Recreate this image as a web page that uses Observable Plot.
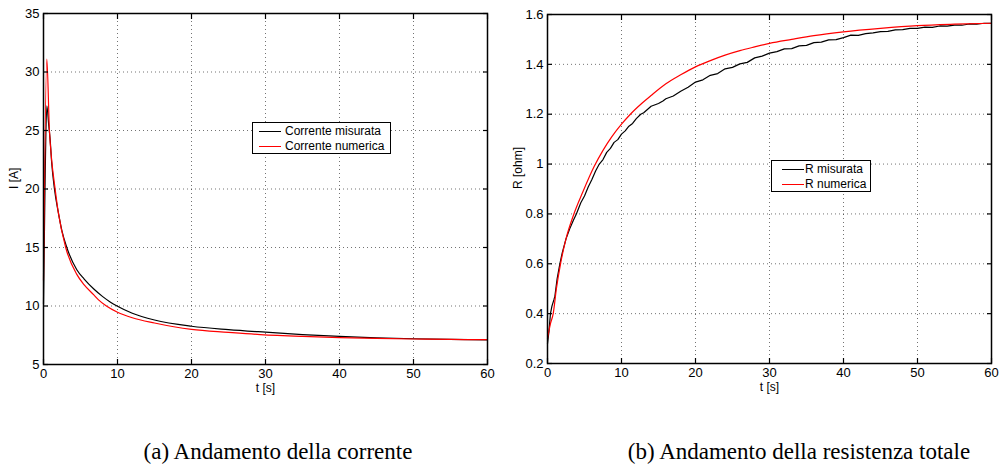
<!DOCTYPE html>
<html><head><meta charset="utf-8">
<script src="https://cdn.jsdelivr.net/npm/d3@7"></script>
<script src="https://cdn.jsdelivr.net/npm/@observablehq/plot@0.6"></script>
<style>
body{margin:0;background:#fff;width:999px;height:468px;position:relative;overflow:hidden;font-family:"Liberation Sans",Arial,sans-serif}
#a{position:absolute;left:0;top:0}
#b{position:absolute;left:499px;top:0}
.legend{position:absolute;border:1px solid #000;background:#fff;font-size:12px;color:#000;box-sizing:border-box}
.legend .row{position:absolute;left:0;height:15px;line-height:15px;white-space:nowrap}
.legend .sw{position:absolute;top:7px;height:0;border-top:1.2px solid}
.legend .tx{position:absolute;top:0}
.cap{position:absolute;font-family:"Liberation Serif","Times New Roman",serif;font-size:23px;top:439px;transform:translateX(-50%);white-space:nowrap;color:#000}
</style>
</head><body>
<div id="a"></div><div id="b"></div>
<div class="legend" style="left:252px;top:122px;width:139px;height:32px">
  <div class="row" style="top:1px"><div class="sw" style="left:6px;width:22px;border-color:#000"></div><div class="tx" style="left:32px">Corrente misurata</div></div>
  <div class="row" style="top:16px"><div class="sw" style="left:6px;width:22px;border-color:#f00"></div><div class="tx" style="left:32px">Corrente numerica</div></div>
</div>
<div class="legend" style="left:771px;top:160px;width:100px;height:32px">
  <div class="row" style="top:1px"><div class="sw" style="left:10px;width:22px;border-color:#000"></div><div class="tx" style="left:33px">R misurata</div></div>
  <div class="row" style="top:16px"><div class="sw" style="left:10px;width:22px;border-color:#f00"></div><div class="tx" style="left:33px">R numerica</div></div>
</div>
<div class="cap" style="left:278px">(a) Andamento della corrente</div>
<div class="cap" style="left:799px">(b) Andamento della resistenza totale</div>
<script>
// ---- Data: current (left panel) ----
const tIMeas = [0,0.2,0.45,0.7,0.9,1.1,1.48,2,2.5,3.15,4.5,5.5,6.8,8,9,10,12,15,20,25,30,35,40,45,50,55,60];
const iMeas  = [10.2,20,27.1,25.5,24.2,22.3,20,18.0,16.4,15,13.1,12.3,11.45,10.8,10.35,9.98,9.38,8.8,8.27,7.98,7.76,7.56,7.4,7.28,7.2,7.15,7.1];
const tINum  = [0,0.45,0.8,1.1,1.57,2,3,4.5,5.5,6.8,7.4,8.5,10,12,15,20,25,29.3,35,40,45,50,55,60];
const iNum   = [12.2,31.1,25,22.5,20,18.0,15.0,12.7,11.8,10.95,10.55,10.0,9.47,9.0,8.55,8.0,7.75,7.56,7.4,7.3,7.23,7.18,7.14,7.12];
// ---- Data: resistance (right panel) ----
const tRMeas = [0,0.2,0.4,0.6,0.86,1.0,1.3,1.67,2,2.5,3,3.5,3.9,4.5,5,5.5,6,6.5,7,7.5,8,8.5,9,9.5,10,10.5,11,11.5,12,12.6,13,14,15,15.6,16,17,18,19,20,21,22,23,24,25,26,27,28,29,30,31,32,33,34,35,36,37,38,39,40,41,42,43,44,45,46,47,48,49,50,51,52,53,54,55,56,57,58,59,60];
const rMeas  = [0.28,0.33,0.40,0.43,0.455,0.47,0.54,0.60,0.645,0.70,0.74,0.775,0.80,0.845,0.872,0.908,0.938,0.972,1.0,1.018,1.047,1.063,1.087,1.098,1.12,1.133,1.152,1.163,1.182,1.20,1.206,1.232,1.243,1.253,1.262,1.273,1.292,1.308,1.329,1.338,1.356,1.363,1.382,1.388,1.402,1.408,1.426,1.433,1.445,1.451,1.462,1.463,1.474,1.476,1.487,1.489,1.498,1.499,1.507,1.517,1.516,1.523,1.526,1.531,1.532,1.538,1.539,1.544,1.544,1.549,1.548,1.554,1.553,1.557,1.557,1.562,1.561,1.565,1.565];
const tRNum  = [0,0.4,0.77,1.2,1.76,2.5,3.57,4.8,6.3,7.5,8.7,10,11.2,12.8,14,16,18,20,22,24,26,28,30,33,36,40,45,50,55,60];
const rNum   = [0.30,0.36,0.40,0.50,0.60,0.70,0.80,0.89,0.99,1.055,1.11,1.16,1.2,1.245,1.275,1.322,1.358,1.39,1.415,1.437,1.455,1.47,1.484,1.50,1.515,1.53,1.544,1.555,1.561,1.565];
// ---- Tick values ----
const xTicks = [0,10,20,30,40,50,60];
const yTicksI = [5,10,15,20,25,30,35];
const yTicksR = [0.2,0.4,0.6,0.8,1,1.2,1.4,1.6];

const zip = (ts, vs) => ts.map((t,i)=>({t, v: vs[i]}));
const FONT = '"Liberation Sans", Arial, sans-serif';

function panel({width, ml, mr, mt, mb, yDomain, yTicks, yLabel, meas, num, yFmt, measCurve}) {
  const grid = {stroke:"#000", strokeOpacity:0.55, strokeDasharray:"1,3", strokeWidth:1};
  return Plot.plot({
    width, height: 400,
    marginLeft: ml, marginRight: mr, marginTop: mt, marginBottom: mb,
    style: {fontFamily: FONT, fontSize: "13px", color:"#000", background:"#fff"},
    x: {domain:[0,60]},
    y: {domain: yDomain},
    marks: [
      Plot.gridX(xTicks, grid),
      Plot.gridY(yTicks, grid),
      Plot.line(meas, {x:"t", y:"v", stroke:"#000", strokeWidth:1.2, curve: measCurve}),
      Plot.line(num, {x:"t", y:"v", stroke:"#f00", strokeWidth:1.2, curve:"monotone-x"}),
      Plot.frame({stroke:"#000", strokeWidth:1.5}),
      Plot.axisX(xTicks, {anchor:"bottom", tickSize:0, tickPadding:4, label:null, fontSize:13}),
      Plot.axisY(yTicks, {anchor:"left", tickSize:0, tickPadding:4, label:null, tickFormat:yFmt, fontSize:13}),
      Plot.axisX(xTicks, {anchor:"bottom", tickSize:5, dy:-5, label:null, tickFormat:()=>"", strokeWidth:1.2}),
      Plot.axisX(xTicks, {anchor:"top", tickSize:5, dy:5, label:null, tickFormat:()=>"", strokeWidth:1.2}),
      Plot.axisY(yTicks, {anchor:"left", tickSize:5, dx:5, label:null, tickFormat:()=>"", strokeWidth:1.2}),
      Plot.axisY(yTicks, {anchor:"right", tickSize:5, dx:-5, label:null, tickFormat:()=>"", strokeWidth:1.2}),
      Plot.text(["t [s]"], {frameAnchor:"bottom", dy:27, text:d=>d, fontSize:12}),
      Plot.text([yLabel], {frameAnchor:"left", dx:-29, rotate:-90, text:d=>d, fontSize:12})
    ]
  });
}

document.getElementById("a").append(panel({
  width:499, ml:43, mr:12, mt:13, mb:36,
  yDomain:[5,35], yTicks:yTicksI, yLabel:"I [A]",
  meas: zip(tIMeas, iMeas), num: zip(tINum, iNum), yFmt: d=>String(d), measCurve:"monotone-x"
}));
document.getElementById("b").append(panel({
  width:500, ml:48, mr:8, mt:14, mb:37,
  yDomain:[0.2,1.6], yTicks:yTicksR, yLabel:"R [ohm]",
  meas: zip(tRMeas, rMeas), num: zip(tRNum, rNum), yFmt: d=>String(+d.toFixed(1)), measCurve:"linear"
}));
</script>
</body></html>
